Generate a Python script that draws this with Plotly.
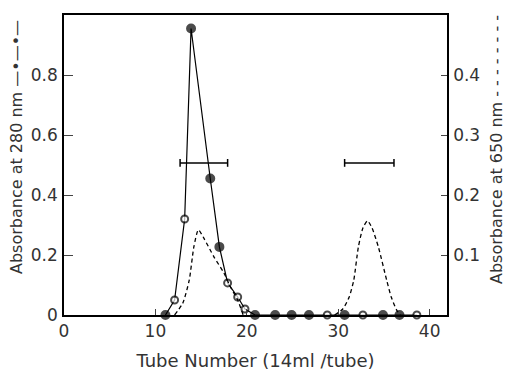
import plotly.graph_objects as go

# ---- data ----
tube_280 = [11.1, 12.1, 13.2, 13.9, 16.0, 17.0, 17.9, 19.0, 19.8, 20.9,
            23.1, 24.9, 26.8, 28.8, 30.7, 32.7, 34.9, 36.7, 38.6]
abs_280 = [0.0, 0.05, 0.32, 0.955, 0.455, 0.227, 0.107, 0.06, 0.02, 0.0,
           0.0, 0.0, 0.0, 0.0, 0.0, 0.0, 0.0, 0.0, 0.0]
filled_280 = [True, False, False, True, True, True, False, False, False, True,
              True, True, True, False, True, False, True, True, False]

tube_650 = [12.1, 13.0, 13.7, 14.2, 14.7, 15.3, 16.4, 17.5, 18.2, 19.0, 19.6, None,
            29.6, 30.5, 31.2, 31.7, 32.2, 32.7, 33.2, 33.7, 34.4, 35.3, 35.8, 36.4, 36.8]
abs_650 = [0.0, 0.02, 0.058, 0.113, 0.142, 0.128, 0.097, 0.07, 0.047, 0.025, 0.0, None,
           0.0, 0.01, 0.03, 0.058, 0.113, 0.145, 0.157, 0.145, 0.113, 0.058, 0.03, 0.008, 0.0]

pool1_x = [12.7, 17.9]
pool2_x = [30.7, 36.1]
pool_y = 0.507

x_ticks = [0, 10, 20, 30, 40]
y1_ticks = [0, 0.2, 0.4, 0.6, 0.8]
y1_labels = ["0", "0.2", "0.4", "0.6", "0.8"]
y2_ticks = [0.1, 0.2, 0.3, 0.4]
y2_labels = ["0.1", "0.2", "0.3", "0.4"]

FONT = "DejaVu Sans"
TXT = "#333"
fig = go.Figure()

fig.add_trace(go.Scatter(
    x=tube_650, y=abs_650, yaxis="y2", mode="lines",
    line=dict(color="black", width=1.3, dash="4px,3px", shape="spline", smoothing=0.6),
    connectgaps=False, showlegend=False, hoverinfo="skip"))

fig.add_trace(go.Scatter(
    x=tube_280, y=abs_280, mode="lines+markers", cliponaxis=False,
    line=dict(color="black", width=1.2),
    marker=dict(size=[8 if f else 7 for f in filled_280],
                color=["black" if f else "white" for f in filled_280],
                line=dict(color="black", width=2)),
    showlegend=False))

for px in (pool1_x, pool2_x):
    fig.add_trace(go.Scatter(
        x=px, y=[pool_y, pool_y], mode="lines",
        line=dict(color="black", width=1.5),
        error_y=dict(type="data", array=[0.013, 0.013], arrayminus=[0.013, 0.013],
                     width=0, thickness=1.5, color="black"),
        showlegend=False, hoverinfo="skip"))

fig.update_layout(
    width=506, height=375,
    margin=dict(l=64, r=59, t=15, b=60, autoexpand=False),
    paper_bgcolor="white", plot_bgcolor="white",
    font=dict(family=FONT, size=15, color=TXT),
    xaxis=dict(range=[0, 41.9], tickvals=x_ticks, ticks="inside", ticklen=6,
               showline=True, linecolor="black", linewidth=1.5, mirror=True,
               showgrid=False, zeroline=False, tickfont=dict(size=17), automargin=False,
               title=dict(text="Tube Number (14ml /tube)", font=dict(size=18), standoff=14)),
    yaxis=dict(range=[0, 1.0], tickvals=y1_ticks, ticktext=y1_labels,
               ticks="inside", ticklen=9, showline=True, linecolor="black",
               linewidth=1.5, showgrid=False, zeroline=False, tickfont=dict(size=17),
               ticklabelstandoff=1, automargin=False),
    yaxis2=dict(range=[0, 0.5], tickvals=y2_ticks, ticktext=y2_labels, overlaying="y",
                side="right", ticks="inside", ticklen=6, showline=True, linecolor="black",
                linewidth=1.5, showgrid=False, zeroline=False, tickfont=dict(size=17),
                ticklabelstandoff=1, automargin=False),
    annotations=[
        dict(text="Absorbance at 280 nm —•—•—", textangle=-90, xref="paper", yref="paper",
             x=(17 - 64) / 383, y=(315 - 147) / 300, xanchor="center", yanchor="middle",
             showarrow=False, font=dict(family=FONT, size=16, color=TXT)),
        dict(text="Absorbance at 650 nm - - - - - - - -", textangle=-90, xref="paper",
             yref="paper", x=(496 - 64) / 383, y=(315 - 150) / 300, xanchor="center",
             yanchor="middle", showarrow=False, font=dict(family=FONT, size=16, color=TXT)),
    ],
)

fig.write_html("out.html", config={"displayModeBar": False},
               post_script="document.body.style.margin='0';")
